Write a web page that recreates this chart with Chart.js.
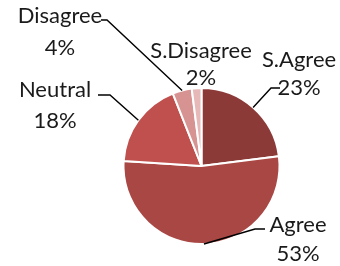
<!DOCTYPE html>
<html>
<head>
<meta charset="utf-8">
<script src="https://cdn.jsdelivr.net/npm/chart.js@4"></script>
<style>
  html, body { margin: 0; padding: 0; background: #fff; }
  #wrap { width: 340px; height: 266px; }
</style>
</head>
<body>
<div id="wrap"><canvas id="myChart" width="340" height="266"></canvas></div>
<script>
// ===== data =====
const categories = ["S.Agree", "Agree", "Neutral", "Disagree", "S.Disagree"];
const values = [23, 53, 18, 4, 2];
const sliceColors = ["#8C3A38", "#A94744", "#C0504D", "#D69391", "#E6B9B8"];

// label placement (text centre x, baseline of name, baseline of percent, leader elbow)
const labelLayout = [
  { x: 299, b1: 67, b2: 95, elbow: [[280, 88], [271, 88]] },
  { x: 298, b1: 232, b2: 261, elbow: [[265, 229], [255, 229]] },
  { x: 55, b1: 97, b2: 128, elbow: [[98, 95], [110, 95]] },
  { x: 60, b1: 23, b2: 55, elbow: [[101, 20], [107, 20]] },
  { x: 201, b1: 58, b2: 85, elbow: null },
];

const total = values.reduce((a, b) => a + b, 0);

const pieLabels = {
  id: "pieLabels",
  afterDatasetsDraw(chart) {
    const ctx = chart.ctx;
    const arcs = chart.getDatasetMeta(0).data;
    ctx.save();
    arcs.forEach((arc, i) => {
      const lay = labelLayout[i];
      const p = arc.getProps(["x", "y", "startAngle", "endAngle", "outerRadius"], true);
      const mid = (p.startAngle + p.endAngle) / 2;
      const ex = p.x + Math.cos(mid) * p.outerRadius;
      const ey = p.y + Math.sin(mid) * p.outerRadius;
      if (lay.elbow) {
        ctx.strokeStyle = "#000";
        ctx.lineWidth = 1.4;
        ctx.beginPath();
        ctx.moveTo(lay.elbow[0][0], lay.elbow[0][1]);
        ctx.lineTo(lay.elbow[1][0], lay.elbow[1][1]);
        ctx.lineTo(ex, ey);
        ctx.stroke();
      }
      ctx.fillStyle = "#1a1a1a";
      ctx.font = "22px Lato";
      ctx.textAlign = "center";
      ctx.textBaseline = "alphabetic";
      ctx.fillText(categories[i], lay.x, lay.b1);
      ctx.fillText(Math.round(values[i] / total * 100) + "%", lay.x, lay.b2);
    });
    ctx.restore();
  },
};

let myChart = document.getElementById("myChart").getContext("2d");
let pieChart = new Chart(myChart, {
  type: "pie",
  data: {
    labels: categories,
    datasets: [
      {
        data: values,
        backgroundColor: sliceColors,
        borderColor: "#ffffff",
        borderWidth: 2,
      },
    ],
  },
  options: {
    responsive: false,
    animation: false,
    layout: { padding: { top: 87, bottom: 21, left: 63, right: 0 } },
    plugins: {
      legend: { display: false },
      tooltip: { enabled: false },
    },
  },
  plugins: [pieLabels],
});
</script>
</body>
</html>
